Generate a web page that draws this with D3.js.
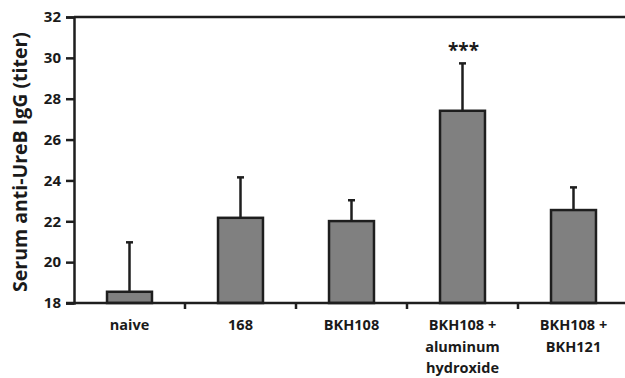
<!DOCTYPE html>
<html lang="en">
<head>
  <meta charset="UTF-8" />
  <title>Serum anti-UreB IgG</title>
  <script src="https://d3js.org/d3.v7.min.js"></script>
  <style>
    body { margin: 0; background: #fff; }
    text { font-family: "Open Sans", Lato, sans-serif; font-weight: bold; fill: #1a1a1a; }
  </style>
</head>
<body>
<script type="text/javascript">

// groups, mean titer and top of error bar
var groups = ["naive", "168", "BKH108", "BKH108 + aluminum hydroxide", "BKH108 + BKH121"];
var groupLines = [["naive"], ["168"], ["BKH108"], ["BKH108 +", "aluminum", "hydroxide"], ["BKH108 +", "BKH121"]];
var means = [18.55, 22.17, 22.01, 27.41, 22.55];
var errTop = [20.97, 24.15, 23.03, 29.73, 23.66];
var yTicks = [18, 20, 22, 24, 26, 28, 30, 32];
var signif = ["", "", "", "***", ""];

var width = 625, height = 378;
var mLeft = 74, mRight = 629, mTop = 17, mBottom = 303;

var svg = d3.select("body").append("svg").attr("width", width).attr("height", height);

var x = d3.scaleBand().domain(groups).range([mLeft, mRight]).paddingInner(0.595).paddingOuter(0.2975);
var y = d3.scaleLinear().domain([18, 32]).range([mBottom, mTop]);
var ink = "#1e1e1e";

// bars
svg.selectAll("rect.bar").data(groups).enter().append("rect")
  .attr("class", "bar")
  .attr("x", function(d) { return x(d); })
  .attr("width", x.bandwidth())
  .attr("y", function(d, i) { return y(means[i]); })
  .attr("height", function(d, i) { return y(18) - y(means[i]); })
  .attr("fill", "#808080")
  .attr("stroke", ink)
  .attr("stroke-width", 2.5);

// error bars (upper only)
svg.selectAll("line.err").data(groups).enter().append("line")
  .attr("x1", function(d) { return x(d) + x.bandwidth() / 2; })
  .attr("x2", function(d) { return x(d) + x.bandwidth() / 2; })
  .attr("y1", function(d, i) { return y(means[i]); })
  .attr("y2", function(d, i) { return y(errTop[i]); })
  .attr("stroke", ink).attr("stroke-width", 2.5);

svg.selectAll("line.cap").data(groups).enter().append("line")
  .attr("x1", function(d) { return x(d) + x.bandwidth() / 2 - 3.5; })
  .attr("x2", function(d) { return x(d) + x.bandwidth() / 2 + 3.5; })
  .attr("y1", function(d, i) { return y(errTop[i]); })
  .attr("y2", function(d, i) { return y(errTop[i]); })
  .attr("stroke", ink).attr("stroke-width", 2.5);

svg.selectAll("text.sig").data(groups).enter().append("text")
  .attr("x", function(d) { return x(d) + x.bandwidth() / 2 + 1; })
  .attr("y", function(d, i) { return y(errTop[i]) - 6; })
  .attr("text-anchor", "middle")
  .attr("font-family", "'DejaVu Sans', sans-serif")
  .attr("font-size", 19)
  .text(function(d, i) { return signif[i]; });

// y axis
var yAxis = svg.append("g").attr("transform", "translate(" + mLeft + ",0)")
  .call(d3.axisLeft(y).tickValues(yTicks).tickSize(8).tickPadding(5));
yAxis.select(".domain").attr("stroke", ink).attr("stroke-width", 2.5);
yAxis.selectAll(".tick line").attr("stroke", ink).attr("stroke-width", 2.5);
yAxis.selectAll(".tick text").attr("font-size", 15).attr("font-family", null).attr("fill", "#1a1a1a");

// top line
svg.append("line").attr("x1", mLeft).attr("x2", width).attr("y1", y(32)).attr("y2", y(32))
  .attr("stroke", ink).attr("stroke-width", 2.5);

// x axis with ticks at the band boundaries
svg.append("line").attr("x1", mLeft - 8).attr("x2", width).attr("y1", mBottom).attr("y2", mBottom)
  .attr("stroke", ink).attr("stroke-width", 2.5);
var gap = (x.step() - x.bandwidth()) / 2;
svg.selectAll("line.xt").data(groups.slice(1)).enter().append("line")
  .attr("x1", function(d) { return x(d) - gap; })
  .attr("x2", function(d) { return x(d) - gap; })
  .attr("y1", mBottom).attr("y2", mBottom + 6)
  .attr("stroke", ink).attr("stroke-width", 2.5);

var labels = svg.selectAll("text.xl").data(groups).enter().append("text")
  .attr("text-anchor", "middle")
  .attr("font-size", 14.5)
  .attr("x", function(d) { return x(d) + x.bandwidth() / 2; })
  .attr("y", 330);
labels.selectAll("tspan").data(function(d, i) { return groupLines[i]; }).enter().append("tspan")
  .attr("x", function() { return d3.select(this.parentNode).attr("x"); })
  .attr("dy", function(d, j) { return j === 0 ? 0 : 21.5; })
  .text(function(d) { return d; });

// y title
svg.append("text")
  .attr("transform", "translate(27," + ((mTop + mBottom) / 2 + 2) + ") rotate(-90)")
  .attr("text-anchor", "middle")
  .attr("font-size", 19.5)
  .text("Serum anti-UreB IgG (titer)");

</script>
</body>
</html>
